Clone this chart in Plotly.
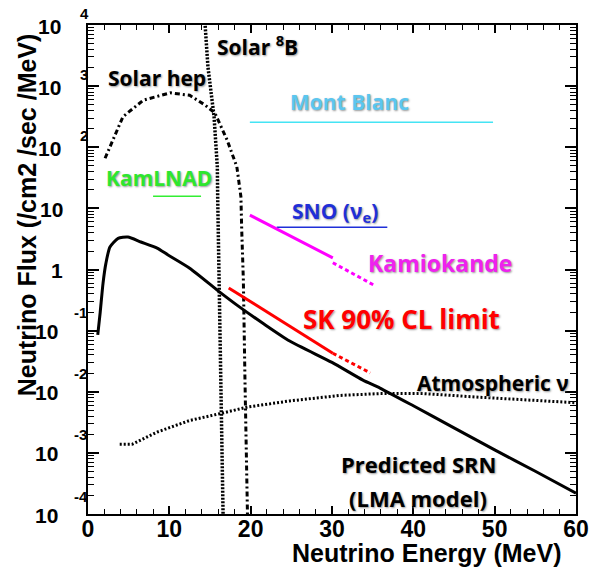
import plotly.graph_objects as go

# ---------------- data ----------------
srn_E = [1.2, 1.5, 1.85, 2.2, 2.7, 3.7, 4.9, 6.5, 8.5, 9.8, 12.5, 16.2, 18.7, 21.5,
         24.8, 30, 33.8, 35.9, 40, 45, 50, 55, 60]
srn_F = [0.085, 0.2, 0.6, 1.26, 2.34, 3.24, 3.39, 2.82, 2.24, 1.74, 1.05, 0.427, 0.24,
         0.132, 0.0676, 0.0302, 0.0155, 0.0115, 0.00589, 0.00257, 0.00112, 0.0005, 0.000219]

b8_E = [14.35, 14.75, 15.5, 15.9, 15.95, 16.2, 16.55, 16.62]
b8_F = [12589, 2042, 316, 47.9, 13.8, 0.1, 3.55e-4, 7.9e-5]

hep_E = [2.1, 4.3, 6.8, 10.1, 12.5, 14.4, 15.6, 17.1, 18.3, 18.8, 18.9, 19.1, 19.3, 19.55, 19.62]
hep_F = [66.1, 316, 589, 776, 708, 490, 363, 132, 47.9, 15.5, 4.47, 0.676, 0.0155, 3.98e-4, 7.9e-5]

atm_E = [3.9, 5.4, 8.5, 12.5, 16.5, 19.6, 24.8, 31, 35.9, 41.2, 48.2, 58.9, 60]
atm_F = [1.38e-3, 1.38e-3, 2.19e-3, 3.39e-3, 4.47e-3, 5.62e-3, 7.08e-3, 8.71e-3,
         9.33e-3, 9.33e-3, 8.13e-3, 6.76e-3, 6.61e-3]

kam_E = [19.9, 30.1]
kam_F = [7.76, 1.55]
kam_ext_E = [30.1, 35.1]
kam_ext_F = [1.29, 0.56]

sk_E = [17.3, 30.1]
sk_F = [0.5, 0.0427]
sk_ext_E = [30.1, 34.7]
sk_ext_F = [0.0427, 0.0204]

montblanc_E = [19.9, 49.8]
montblanc_F = [257, 257]
sno_E = [23.2, 36.8]
sno_F = [4.9, 4.9]
kamland_E = [8.0, 13.9]
kamland_F = [15.8, 15.8]

y_decades = [-4, -3, -2, -1, 0, 1, 2, 3, 4]
x_ticks = [0, 10, 20, 30, 40, 50, 60]

# ---------------- figure ----------------
fig = go.Figure()

def line(x, y, color, width, dash="solid", shape="linear"):
    fig.add_trace(go.Scatter(x=x, y=y, mode="lines",
                             line=dict(color=color, width=width, dash=dash, shape=shape,
                                       smoothing=0.6 if shape == "spline" else None),
                             showlegend=False, hoverinfo="skip"))

line(atm_E, atm_F, "black", 3, "2px,2px")
line(b8_E, b8_F, "black", 3.5, "2px,1.5px")
line(hep_E, hep_F, "black", 3, "5px,3px,2px,3px")
line(montblanc_E, montblanc_F, "#44e4f4", 1.5)
line(sno_E, sno_F, "#1f2fd8", 1.5)
line(kamland_E, kamland_F, "#33ee33", 1.5)
line(srn_E, srn_F, "black", 3, shape="spline")
line(kam_E, kam_F, "#ff00ff", 3)
line(kam_ext_E, kam_ext_F, "#ff00ff", 3, "4px,3px")
line(sk_E, sk_F, "#ff0000", 3)
line(sk_ext_E, sk_ext_F, "#ff0000", 3, "4px,3px")

minor_y = [m * 10 ** d for d in range(-4, 4) for m in range(2, 10)]

fig.update_xaxes(range=[0, 60], showgrid=False, zeroline=False,
                 showline=True, linecolor="black", linewidth=2, mirror="ticks",
                 ticks="inside", ticklen=8, tickwidth=1.5, tickcolor="black",
                 tickvals=x_ticks, ticklabelstandoff=-7,
                 tickfont=dict(family="Liberation Sans", size=23, color="black", weight="bold"),
                 minor=dict(ticks="inside", ticklen=5, tickwidth=1.2, tickcolor="black", dtick=2, showgrid=False))
fig.update_yaxes(type="log", range=[-4, 4], showgrid=False, zeroline=False,
                 showline=True, linecolor="black", linewidth=2, mirror="ticks",
                 ticks="inside", ticklen=11, tickwidth=1.5, tickcolor="black",
                 tickvals=[10 ** d for d in y_decades], showticklabels=False,
                 minor=dict(ticks="inside", ticklen=6, tickwidth=1, tickcolor="black",
                            tickvals=minor_y, showgrid=False))

ann = []
tf = dict(family="Liberation Sans", color="black", weight="bold")
for d in y_decades:
    if d in (0, 1):
        ann.append(dict(x=0, y=d, xref="paper", yref="y", xanchor="right", yanchor="middle",
                        xshift=-23, yshift=-1, text="1" if d == 0 else "10", showarrow=False,
                        font=dict(size=21, **tf)))
    else:
        ann.append(dict(x=0, y=d, xref="paper", yref="y", xanchor="right", yanchor="middle",
                        xshift=-25 if d > 0 else -28, yshift=-1, text="10", showarrow=False,
                        font=dict(size=21, **tf)))
        ann.append(dict(x=0, y=d, xref="paper", yref="y", xanchor="left", yanchor="middle",
                        xshift=-10 if d > 0 else -16, yshift=12 if d > 0 else 18,
                        text=str(d), showarrow=False, font=dict(size=15, **tf)))

ann.append(dict(x=0, y=0.611, xref="paper", yref="paper", xshift=-61, textangle=-90,
                text="Neutrino Flux (/cm2 /sec /MeV)", showarrow=False,
                xanchor="center", yanchor="middle", font=dict(size=25, **tf)))
ann.append(dict(x=0.694, y=0, xref="paper", yref="paper", yshift=-39,
                text="Neutrino Energy (MeV)", showarrow=False,
                xanchor="center", yanchor="middle", font=dict(size=25, **tf)))

lf = "Open Sans"
sh = "1px 1px 2px #999"
labels = [
    ("Solar hep", 8.48, 3.13, "black", 21),
    ("Solar <sup>8</sup>B", 20.9, 3.67, "black", 21),
    ("Mont Blanc", 32.2, 2.74, "#5cc6ef", 21),
    ("KamLNAD", 8.73, 1.5, "#2ee62e", 21),
    ("SNO (ν<sub>e</sub>)", 30.4, 0.94, "#1f2fd8", 21),
    ("Kamiokande", 43.3, 0.11, "#ee22ee", 23),
    ("SK 90% CL limit", 38.5, -0.81, "#ff0000", 26),
    ("Atmospheric ν", 49.8, -1.86, "black", 21),
    ("Predicted SRN", 40.6, -3.18, "black", 22),
    ("(LMA model)", 40.6, -3.74, "black", 22),
]
for t, x, y, c, s in labels:
    ann.append(dict(x=x, y=y, xref="x", yref="y", text=t, showarrow=False,
                    xanchor="center", yanchor="middle",
                    font=dict(family=lf, size=s, color=c, weight="bold", shadow=sh)))

fig.update_layout(width=600, height=573, margin=dict(l=88, r=24, t=25, b=59),
                  plot_bgcolor="white", paper_bgcolor="white", annotations=ann,
                  showlegend=False)

fig.write_html("out.html", config={"displayModeBar": False},
               post_script="document.body.style.margin='0';")
